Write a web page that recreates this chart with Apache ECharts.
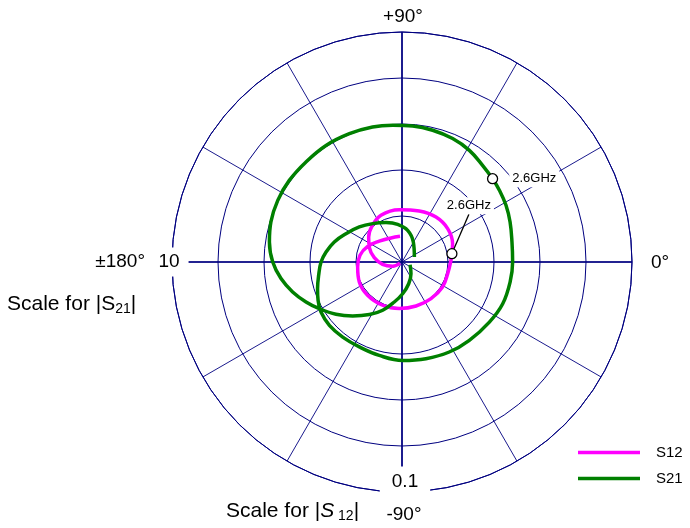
<!DOCTYPE html>
<html>
<head>
<meta charset="utf-8">
<script src="https://cdn.jsdelivr.net/npm/echarts@6/dist/echarts.min.js"></script>
<style>
html,body{margin:0;padding:0;background:#fff;}
#chart{width:690px;height:528px;}
</style>
</head>
<body>
<div id="chart"></div>
<script>
// ---- data ----
const seriesNames = ['S12', 'S21'];
const angleTickLabels = ['0°', '+90°', '±180°', '-90°'];
const s21ScaleLabel = '10';
const s12ScaleLabel = '0.1';
const markerLabel = '2.6GHz';

const s21Mag = [0.58,1.00,1.40,1.65,1.85,2.10,2.40,2.73,3.07,3.33,3.52,3.67,3.85,4.01,4.14,4.19,4.16,4.13,4.18,4.28,
  4.33,4.42,4.49,4.61,4.74,4.78,4.81,4.86,5.01,5.15,5.26,5.35,5.47,5.67,5.80,5.88,5.93,5.96,6.01,6.03,
  6.05,6.03,6.05,6.03,5.96,5.83,5.62,5.31,4.93,4.52,4.13,3.66,3.18,2.69,2.26,1.77,1.38,0.99,0.64,0.37];
const s21Phase = [22.1,60.5,79.9,96.6,112.1,127.4,140.6,153.2,163.5,172.5,180,189.1,197.5,204.5,211.7,221.1,231.7,243.3,256.3,270.4,
  283.9,297.7,310.7,325.5,337.5,349.5,0,10.3,20.3,28.6,36.4,42.6,50.2,58.9,67.7,76.9,85.5,93.9,102.3,112.3,
  123.1,133.8,144.1,153.6,163.0,171.4,180,187.8,195.3,202.6,209.4,218.4,227.6,238.2,248.2,259.1,271.2,287.1,307.6,341.6];
const s21MarkerIndex = 31;

const s12Mag = [0.001,0.0045,0.0085,0.0122,0.0155,0.0181,0.0203,0.0223,0.0228,0.0234,0.0245,0.0246,0.0234,0.0220,0.0213,
  0.0205,0.0207,0.0203,0.0201,0.0203,0.0206,0.0208,0.0205,0.0194,0.0185,0.0164,0.0134,0.0115,0.0112];
const s12Phase = [210,204.6,186.8,171.0,156.2,143.2,130.0,114.2,93.0,71.3,52.9,36.2,20.0,9.5,2.0,
  -14.3,-31.6,-51.6,-72.3,-93.3,-114.1,-136.1,-154.9,-173.6,170.9,155.5,137.6,114.6,94.4];
const s12MarkerIndex = 13;

// ---- build ----
const wrap = p => ((p % 360) + 360) % 360;
const pairs = (m, p) => m.map((v, i) => [v, wrap(p[i])]);
const s21Data = pairs(s21Mag, s21Phase);
const s12Data = pairs(s12Mag, s12Phase);

const NAVY = '#000080';
const FONT = 'Liberation Sans, Arial, sans-serif';
const CENTER = [402, 262];
const R = 230;

const chart = echarts.init(document.getElementById('chart'), null, {renderer: 'canvas'});

const txt = (text, x, y, align, extra) => Object.assign({
  type: 'text', x: x, y: y, z: 100,
  style: Object.assign({text: text, fill: '#000', font: '19px ' + FONT, align: align, verticalAlign: 'middle'}, extra || {})
});

const markerStyle = {color: '#fff', borderColor: '#000', borderWidth: 1.3, opacity: 1};
const markerLabelStyle = {show: true, formatter: markerLabel, color: '#000', fontSize: 13,
  fontFamily: FONT, backgroundColor: '#fff', padding: [2, 3]};

const option = {
  animation: false,
  backgroundColor: '#fff',
  polar: [
    {center: CENTER, radius: R},
    {center: CENTER, radius: R}
  ],
  angleAxis: [
    {polarIndex: 0, type: 'value', min: 0, max: 360, interval: 30, startAngle: 0, clockwise: false,
      axisLine: {show: true, lineStyle: {color: NAVY, width: 1}},
      axisTick: {show: false}, axisLabel: {show: false},
      splitLine: {show: true, lineStyle: {color: NAVY, width: 0.9}}},
    {polarIndex: 1, type: 'value', min: 0, max: 360, interval: 90, startAngle: 0, clockwise: false,
      axisLine: {show: false}, axisTick: {show: false}, axisLabel: {show: false},
      splitLine: {show: true, lineStyle: {color: NAVY, width: 1.6}}}
  ],
  radiusAxis: [
    {polarIndex: 0, type: 'value', min: 0, max: 10, interval: 2,
      axisLine: {show: false}, axisTick: {show: false}, axisLabel: {show: false},
      splitLine: {show: true, lineStyle: {color: NAVY, width: 1}}},
    {polarIndex: 1, type: 'value', min: 0, max: 0.1, interval: 0.02,
      axisLine: {show: false}, axisTick: {show: false}, axisLabel: {show: false},
      splitLine: {show: false}}
  ],
  legend: {
    data: seriesNames, orient: 'vertical', left: 578, top: 445, padding: 0,
    icon: 'rect', itemWidth: 62, itemHeight: 3.5, itemGap: 11,
    textStyle: {color: '#000', fontSize: 15, fontFamily: FONT, padding: [0, 0, 0, 11]}
  },
  series: [
    {name: 'S12', type: 'line', coordinateSystem: 'polar', polarIndex: 1, data: s12Data,
      smooth: 0.4, showSymbol: false, z: 3,
      lineStyle: {color: '#ff00ff', width: 3.5}, itemStyle: {color: '#ff00ff'}},
    {name: 'S21', type: 'line', coordinateSystem: 'polar', polarIndex: 0, data: s21Data,
      smooth: 0.4, showSymbol: false, z: 3,
      lineStyle: {color: '#008000', width: 3.5}, itemStyle: {color: '#008000'}},
    {name: 'S21 marker', type: 'scatter', coordinateSystem: 'polar', polarIndex: 0, z: 5,
      data: [s21Data[s21MarkerIndex]], symbol: 'circle', symbolSize: 10,
      itemStyle: markerStyle,
      label: Object.assign({position: 'right', distance: 11}, markerLabelStyle)},
    {name: 'S12 marker', type: 'scatter', coordinateSystem: 'polar', polarIndex: 1, z: 5,
      data: [s12Data[s12MarkerIndex]], symbol: 'circle', symbolSize: 10,
      itemStyle: markerStyle,
      label: Object.assign({position: 'inside'}, markerLabelStyle),
      labelLayout: {dx: 17, dy: -48},
      labelLine: {show: true, lineStyle: {color: '#000', width: 1.3, opacity: 1}}}
  ],
  graphic: [
    txt(angleTickLabels[1], 403, 17, 'center'),
    txt(angleTickLabels[0], 651, 263, 'left'),
    txt(angleTickLabels[2], 145, 262, 'right'),
    txt(angleTickLabels[3], 404, 515, 'center'),
    txt(s21ScaleLabel, 169, 262, 'center', {backgroundColor: '#fff', padding: [5, 9]}),
    txt(s12ScaleLabel, 405, 482, 'center', {backgroundColor: '#fff', padding: [6, 12]}),
    {type: 'text', x: 7, y: 304, z: 100,
      style: {text: '{a|Scale for |S}{b|21}{a||}', align: 'left', verticalAlign: 'middle',
        rich: {a: {fontSize: 21, fontFamily: FONT, color: '#000', lineHeight: 24},
               b: {fontSize: 14, fontFamily: FONT, color: '#000', lineHeight: 14, verticalAlign: 'bottom'}}}},
    {type: 'text', x: 226, y: 511, z: 100,
      style: {text: '{a|Scale for |}{i|S}{b| 12}{a||}', align: 'left', verticalAlign: 'middle',
        rich: {a: {fontSize: 21, fontFamily: FONT, color: '#000', lineHeight: 24},
               i: {fontSize: 21, fontFamily: FONT, fontStyle: 'italic', color: '#000', lineHeight: 24},
               b: {fontSize: 14, fontFamily: FONT, color: '#000', lineHeight: 14, verticalAlign: 'bottom'}}}}
  ]
};
chart.setOption(option);
</script>
</body>
</html>
